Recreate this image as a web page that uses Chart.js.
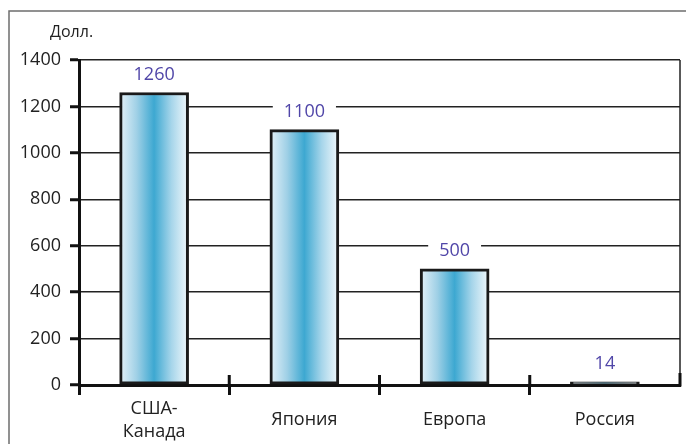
<!DOCTYPE html>
<html>
<head>
<meta charset="utf-8">
<script src="https://cdn.jsdelivr.net/npm/chart.js@4"></script>
<style>
    html, body { margin: 0; padding: 0; background: #fff; }
    #box { width: 686px; height: 444px; position: relative; }
</style>
</head>
<body>
<div id="box"><canvas id="chart" width="686" height="444"></canvas></div>
<script>
const regions = [["США-", "Канада"], "Япония", "Европа", "Россия"];
const costs = [1260, 1100, 500, 14];
const unitLabel = "Долл.";
const yMin = 0;
const yMax = 1400;
const yStep = 200;

const FONT = '"Open Sans", "Noto Sans", sans-serif';
const BAR_W = 69;

// horizontal light-dark-light fill for each bar
function barFill(c) {
    const chart = c.chart;
    const xs = chart.scales.x;
    if (!xs || !chart.chartArea) return "#7cc4e0";
    const cx = xs.getPixelForValue(c.dataIndex);
    const g = chart.ctx.createLinearGradient(cx - BAR_W / 2, 0, cx + BAR_W / 2, 0);
    g.addColorStop(0, "#e6f2f9");
    g.addColorStop(0.25, "#9fd0e6");
    g.addColorStop(0.5, "#3da8d1");
    g.addColorStop(0.75, "#a6d5ea");
    g.addColorStop(1, "#f3f9fc");
    return g;
}

const framePlugin = {
    id: "frame",
    beforeDraw(chart) {
        const ctx = chart.ctx;
        ctx.save();
        ctx.strokeStyle = "#6e6e6e";
        ctx.lineWidth = 1.5;
        ctx.beginPath();
        ctx.moveTo(9, chart.height);
        ctx.lineTo(9, 11);
        ctx.lineTo(chart.width, 11);
        ctx.stroke();

        ctx.fillStyle = "#222";
        ctx.font = "16px " + FONT;
        ctx.textAlign = "left";
        ctx.textBaseline = "middle";
        ctx.fillText(unitLabel, chart.chartArea.left - 29, 32);
        ctx.restore();
    },
    afterDatasetsDraw(chart) {
        const ctx = chart.ctx;
        const area = chart.chartArea;
        const xs = chart.scales.x;
        ctx.save();

        // right edge of the plot
        ctx.strokeStyle = "#222";
        ctx.lineWidth = 1.5;
        ctx.beginPath();
        ctx.moveTo(area.right, area.top);
        ctx.lineTo(area.right, area.bottom);
        ctx.stroke();

        // category separators crossing the baseline
        ctx.strokeStyle = "#111";
        ctx.lineWidth = 3;
        ctx.beginPath();
        for (let i = 1; i < regions.length; i++) {
            const x = (xs.getPixelForValue(i - 1) + xs.getPixelForValue(i)) / 2;
            ctx.moveTo(x, area.bottom - 10);
            ctx.lineTo(x, area.bottom);
        }
        ctx.moveTo(area.right, area.bottom - 12);
        ctx.lineTo(area.right, area.bottom + 1.5);
        ctx.stroke();

        // value labels on a white patch that breaks the grid line
        const meta = chart.getDatasetMeta(0);
        ctx.font = "18px " + FONT;
        ctx.textAlign = "center";
        ctx.textBaseline = "middle";
        meta.data.forEach((bar, i) => {
            const text = String(costs[i]);
            const y = bar.y - 18;
            const w = ctx.measureText(text).width + 22;
            ctx.fillStyle = "#fff";
            ctx.fillRect(bar.x - w / 2, y - 8, w, 16);
            ctx.fillStyle = "#5046a8";
            ctx.fillText(text, bar.x, y);
        });
        ctx.restore();
    }
};

new Chart(document.getElementById("chart"), {
    type: "bar",
    data: {
        labels: regions,
        datasets: [{
            label: unitLabel,
            data: costs,
            backgroundColor: barFill,
            borderColor: "#1a1a1a",
            borderWidth: 3,
            borderSkipped: false,
            barThickness: BAR_W
        }]
    },
    options: {
        responsive: false,
        animation: false,
        layout: {
            padding: { top: 60, right: 6, left: 0, bottom: 0 }
        },
        plugins: {
            legend: { display: false },
            tooltip: { enabled: false }
        },
        scales: {
            x: {
                grid: {
                    drawOnChartArea: false,
                    offset: true,
                    tickLength: 10,
                    tickWidth: 3,
                    tickColor: c => c.type === "tick" ? "#111" : "rgba(0,0,0,0)"
                },
                border: { color: "#111", width: 3 },
                ticks: {
                    color: "#222",
                    padding: 14,
                    crossAlign: "center",
                    font: { family: FONT, size: 18, lineHeight: 1.25 }
                },
                afterFit(s) { s.height = 59; }
            },
            y: {
                min: yMin,
                max: yMax,
                grid: {
                    color: "#222",
                    lineWidth: 1.5,
                    tickLength: 9,
                    tickWidth: 3,
                    tickColor: "#111"
                },
                border: { color: "#111", width: 3 },
                ticks: {
                    stepSize: yStep,
                    padding: 9,
                    color: "#222",
                    font: { family: FONT, size: 18 },
                    callback: v => String(v)
                },
                afterFit(s) { s.width = 79; }
            }
        }
    },
    plugins: [framePlugin]
});
</script>
</body>
</html>
